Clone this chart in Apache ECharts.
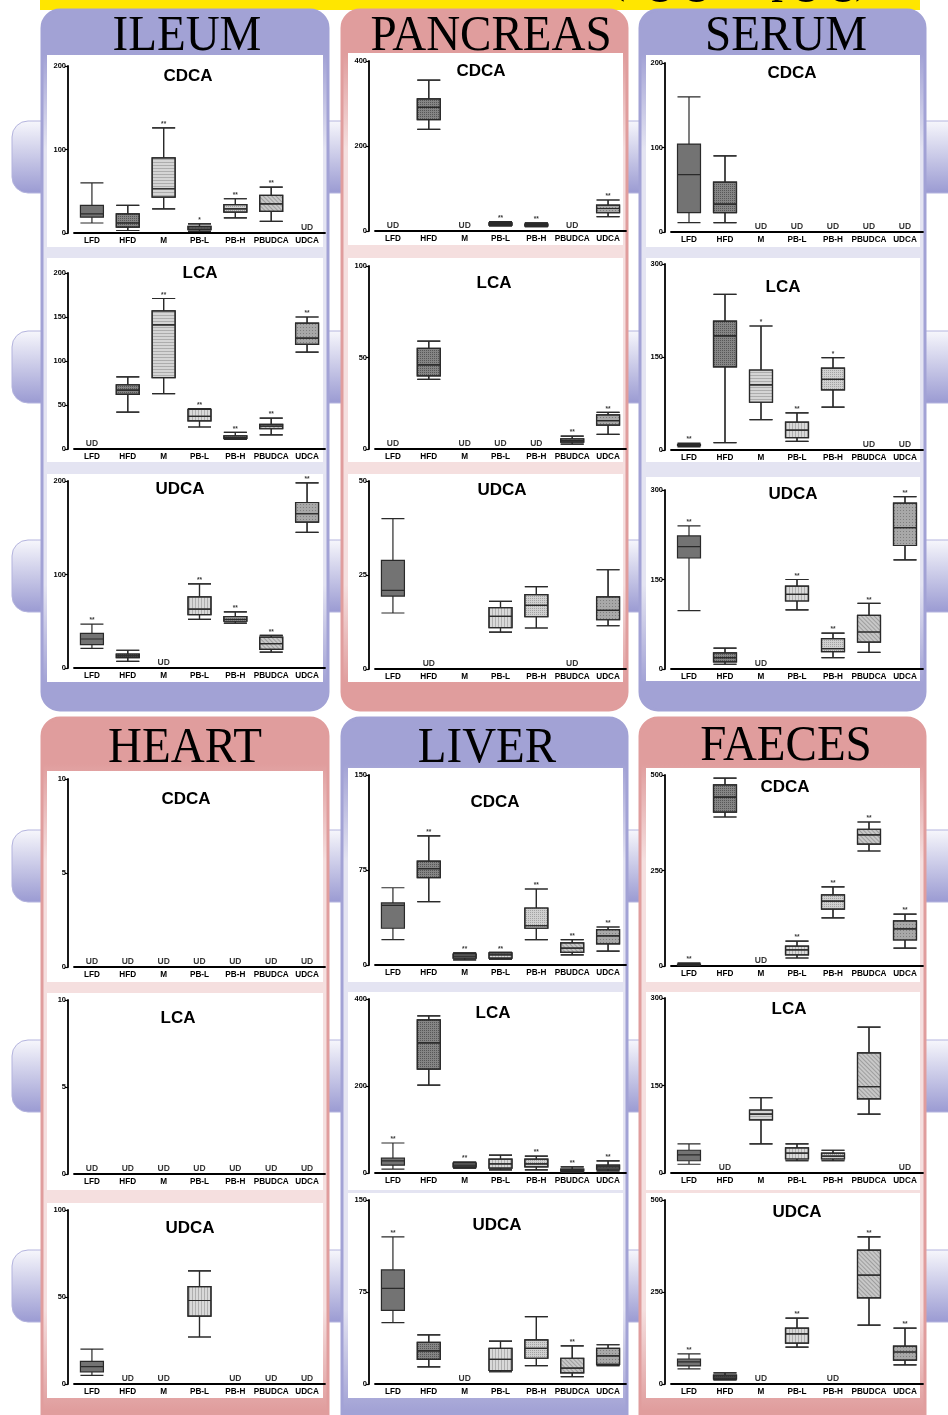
<!DOCTYPE html>
<html>
<head>
<meta charset="utf-8">
<script src="https://cdn.jsdelivr.net/npm/echarts@6/dist/echarts.min.js"></script>
<style>
html,body{margin:0;padding:0;background:#fff;}
#chart{width:948px;height:1415px;}
</style>
</head>
<body>
<div id="chart"></div>
<script>
// 分组
var groups = ['LFD', 'HFD', 'M', 'PB-L', 'PB-H', 'PBUDCA', 'UDCA'];
var tissues = ['ILEUM', 'PANCREAS', 'SERUM', 'HEART', 'LIVER', 'FAECES'];
var acids = ['CDCA', 'LCA', 'UDCA'];

// 箱线数据 [min, Q1, median, Q3, max], null = 未检出
var ileumCDCA = [[12,19,23,33,60],[3,7,12,23,33],[29,43,53,90,126],[2,4,6,8,11],[18,25,29,34,41],[14,26,35,45,55],null];
var ileumCDCAMark = ['','','**','*','**','**','UD'];
var ileumLCA = [null,[42,62,67,73,82],[63,81,141,157,171],[25,32,37,45,46],[11,12,13,15,19],[16,23,26,28,35],[110,119,126,143,150]];
var ileumLCAMark = ['UD','','**','**','**','**','**'];
var ileumUDCA = [[21,25,31,37,47],[7,11,13,15,19],null,[52,57,63,76,90],[48,50,52,55,60],[17,20,26,33,35],[145,156,165,177,198]];
var ileumUDCAMark = ['**','','UD','**','**','**','**'];

var pancreasCDCA = [null,[239,262,291,311,355],null,[12,14,16,19,22],[10,12,14,16,19],null,[34,43,53,61,73]];
var pancreasCDCAMark = ['UD','','UD','**','**','UD','**'];
var pancreasLCA = [null,[38,40,46,55,59],null,null,null,[2.7,3.8,4.6,5.5,7],[8,13,15.5,18.6,20]];
var pancreasLCAMark = ['UD','','UD','UD','UD','**','**'];
var pancreasUDCA = [[14.9,19.4,20.9,28.9,40],null,null,[9.8,11,14,16.3,18],[10.9,13.9,16.9,19.8,21.9],null,[11.5,13.1,15.6,19.2,26.4]];
var pancreasUDCAMark = ['','UD','','','','UD',''];

var serumCDCA = [[11,23,68,104,160],[11,23,33,59,90],null,null,null,null,null];
var serumCDCAMark = ['','','UD','UD','UD','UD','UD'];
var serumLCA = [[5,7,8,9,11],[12,134,184,208,251],[49,77,105,129,200],[14,20,32,45,60],[69,97,114,132,149],null,null];
var serumLCAMark = ['**','','*','**','*','UD','UD'];
var serumUDCA = [[98,186,205,223,240],[8,12,19,27,35],null,[99,114,125,139,150],[19,29,34,51,60],[28,45,62,90,110],[183,207,237,278,289]];
var serumUDCAMark = ['**','','UD','**','**','**','**'];

var heartCDCA = [null,null,null,null,null,null,null];
var heartCDCAMark = ['UD','UD','UD','UD','UD','UD','UD'];
var heartLCA = [null,null,null,null,null,null,null];
var heartLCAMark = ['UD','UD','UD','UD','UD','UD','UD'];
var heartUDCA = [[5,7,10,13,20],null,null,[27,39,48,56,65],null,null,null];
var heartUDCAMark = ['','UD','UD','','UD','UD','UD'];

var liverCDCA = [[20,29,47,49,61],[50,69,76,82,102],[4,5.5,7,8.7,9.5],[4.7,5.5,8,9.5,10],[20,29,31,45,60],[8,10,13.4,17.4,20],[11,16.6,23,28,30]];
var liverCDCAMark = ['','**','**','**','**','**','**'];
var liverLCA = [[9,18,28,34,69],[202,239,299,352,361],[11,14,18,23,25],[7,11,21,32,41],[7,14,21,32,39],[2,5,7,9,14],[5,9,14,18,28]];
var liverLCAMark = ['**','','**','','**','**','**'];
var liverUDCA = [[50,60,78,93,120],[14,20,27,34,40],null,[10,11,20,29,35],[15,21,29,36,55],[6,9,13,21,31],[15,16,23,29,32]];
var liverUDCAMark = ['**','','UD','','','**',''];

var faecesCDCA = [[1,2,3,5,8],[390,403,442,474,492],null,[21,29,42,52,65],[126,149,170,186,207],[301,319,343,358,377],[47,68,97,118,136]];
var faecesCDCAMark = ['**','','UD','**','**','**','**'];
var faecesLCA = [[15,21,31,39,50],null,[50,91,101,108,129],[21,24,34,43,50],[21,24,29,34,39],[101,127,148,206,250],null];
var faecesLCAMark = ['','UD','','','','','UD'];
var faecesUDCA = [[41,49,60,68,82],[11,14,19,24,30],null,[100,111,136,152,179],null,[160,234,296,364,400],[52,65,87,103,152]];
var faecesUDCAMark = ['**','','UD','**','UD','**','**'];

// 坐标轴刻度
var axisMax  = [200,200,200, 400,100,50, 200,300,300, 10,10,100, 150,400,150, 500,300,500];
var axisStep = [100,50,100, 200,50,25, 100,150,150, 5,5,50, 75,200,75, 250,150,250];

var panelData = [ileumCDCA, ileumLCA, ileumUDCA, pancreasCDCA, pancreasLCA, pancreasUDCA,
                 serumCDCA, serumLCA, serumUDCA, heartCDCA, heartLCA, heartUDCA,
                 liverCDCA, liverLCA, liverUDCA, faecesCDCA, faecesLCA, faecesUDCA];
var panelMark = [ileumCDCAMark, ileumLCAMark, ileumUDCAMark, pancreasCDCAMark, pancreasLCAMark, pancreasUDCAMark,
                 serumCDCAMark, serumLCAMark, serumUDCAMark, heartCDCAMark, heartLCAMark, heartUDCAMark,
                 liverCDCAMark, liverLCAMark, liverUDCAMark, faecesCDCAMark, faecesLCAMark, faecesUDCAMark];

// 布局
var colX = [42, 342, 640];
var colW = [286, 285, 285];
var gridLeft = [74, 375, 671];
var gridRight = [325, 626, 923];
var whiteX = [[47,323],[348,623],[646,920]];
var plotTop  = [66,273,481, 61,266,481, 63,264,490, 779,1000,1210, 775,999,1200, 775,998,1200];
var plotZero = [233,449,668, 231,449,669, 232,450,669, 967,1174,1384, 965,1173,1384, 966,1173,1384];
var whiteTop = [55,258,474, 53,258,474, 55,258,477, 771,993,1203, 768,992,1193, 768,992,1193];
var whiteBot = [247,462,682, 245,462,682, 247,462,681, 982,1190,1398, 982,1190,1398, 982,1190,1398];
var subTitle = [[188,76],[200,273],[180,489],[481,71],[494,283],[502,490],[792,73],[783,287],[793,494],
                [186,799],[178,1018],[190,1228],[495,802],[493,1013],[497,1225],[785,787],[789,1009],[797,1212]];
var titleX = [187, 491, 786, 185, 487, 786];
var titleY = [37, 37, 37, 749, 749, 747];
var bandY = [121, 331, 540, 830, 1040, 1250];

// 颜色
var purple = '#a2a2d5', purpleLight = '#e4e4f2';
var pink = '#e09d9d', pinkLight = '#f5dfdf';
var tissueColor = [0, 1, 0, 1, 0, 1];
var boxFill = ['#737373', '#858585', '#d5d5d5', '#d9d9d9', '#d0d0d0', '#c8c8c8', '#a8a8a8'];
var boxDecal = [
    null,
    {symbol:'rect', symbolSize:1, color:'rgba(30,30,30,0.45)', dashArrayX:[1,1], dashArrayY:[1,1]},
    {symbol:'rect', symbolSize:1, color:'rgba(80,80,80,0.3)', dashArrayX:[1,0], dashArrayY:[1,2]},
    {symbol:'rect', symbolSize:1, color:'rgba(80,80,80,0.3)', dashArrayX:[1,2], dashArrayY:[1,0]},
    {symbol:'rect', symbolSize:1, color:'rgba(60,60,60,0.3)', dashArrayX:[1,1], dashArrayY:[1,1]},
    {symbol:'rect', symbolSize:1, color:'rgba(60,60,60,0.3)', dashArrayX:[1,0], dashArrayY:[1,2], rotation:Math.PI/4},
    {symbol:'rect', symbolSize:1, color:'rgba(50,50,50,0.35)', dashArrayX:[1,2], dashArrayY:[1,2]}
];
var sans = '"Liberation Sans", Arial, sans-serif';
var serif = '"Liberation Serif", "DejaVu Serif", serif';

var grid = [], xAxis = [], yAxis = [], series = [], graphic = [];

// 背景条
bandY.forEach(function (y) {
    graphic.push({
        type:'rect', z:-10, silent:true,
        shape:{x:12, y:y, width:960, height:72, r:[16,0,0,16]},
        style:{fill:new echarts.graphic.LinearGradient(0,0,0,1,[{offset:0,color:'#f7f7fc'},{offset:1,color:'#9a9ad2'}]),
               stroke:'#b4b4de', lineWidth:1}
    });
});

// 黄色标题条
graphic.push({type:'rect', z:-9, silent:true, shape:{x:40, y:0, width:880, height:10}, style:{fill:'#ffe600'}});
graphic.push({type:'text', z:-8, silent:true, x:740, y:3, scaleX:0.94,
    style:{text:'(ng/g or pg/g)', font:'50px ' + serif, fill:'#000', align:'center', verticalAlign:'bottom'}});

// 组织面板
tissues.forEach(function (name, t) {
    var col = t % 3, row = Math.floor(t / 3);
    var top = row ? 718 : 10;
    var h = row ? 720 : 700;
    var solid = tissueColor[t] ? pink : purple;
    var light = tissueColor[t] ? pinkLight : purpleLight;
    graphic.push({
        type:'rect', z:-7, silent:true,
        shape:{x:colX[col], y:top, width:colW[col], height:h, r:18},
        style:{fill:new echarts.graphic.LinearGradient(0,0,0,1,[
            {offset:0,color:solid},{offset:0.065,color:solid},{offset:0.2,color:light},
            {offset:0.82,color:light},{offset:0.96,color:solid},{offset:1,color:solid}]),
            stroke:solid, lineWidth:3}
    });
    graphic.push({
        type:'text', z:5, silent:true, x:titleX[t], y:titleY[t], scaleX:0.94,
        style:{text:name, font:'50px ' + serif, fill:'#000', align:'center', verticalAlign:'middle'}
    });
});

// 图表
panelData.forEach(function (vals, p) {
    var t = Math.floor(p / 3), col = t % 3;
    var marks = panelMark[p];

    graphic.push({
        type:'rect', z:-6, silent:true,
        shape:{x:whiteX[col][0], y:whiteTop[p], width:whiteX[col][1] - whiteX[col][0], height:whiteBot[p] - whiteTop[p]},
        style:{fill:'#fff'}
    });
    graphic.push({
        type:'text', z:5, silent:true, x:subTitle[p][0], y:subTitle[p][1],
        style:{text:acids[p % 3], font:'bold 17px ' + sans, fill:'#000', align:'center', verticalAlign:'middle'}
    });

    grid.push({left:gridLeft[col], width:gridRight[col] - gridLeft[col], top:plotTop[p], height:plotZero[p] - plotTop[p]});
    xAxis.push({
        type:'category', gridIndex:p, data:groups,
        axisLine:{lineStyle:{color:'#000', width:1.8}},
        axisTick:{alignWithLabel:true, length:2, lineStyle:{color:'#000', width:1.2}},
        axisLabel:{interval:0, margin:4, fontSize:8.2, fontWeight:'bold', color:'#000', fontFamily:sans},
        splitLine:{show:false}
    });
    yAxis.push({
        type:'value', gridIndex:p, min:0, max:axisMax[p], interval:axisStep[p], offset:6,
        axisLine:{show:true, lineStyle:{color:'#000', width:1.8}},
        axisTick:{show:true, length:3, lineStyle:{color:'#000', width:1.2}},
        axisLabel:{margin:2, fontSize:7.5, fontWeight:'bold', color:'#000', fontFamily:sans},
        splitLine:{show:false}
    });

    series.push({
        type:'boxplot', xAxisIndex:p, yAxisIndex:p, boxWidth:[23,23], silent:true,
        itemStyle:{borderColor:'#2a2a2a', borderWidth:1.2},
        data:vals.map(function (v, i) {
            if (!v) return {value:['-','-','-','-','-']};
            var style = {color:boxFill[i]};
            if (boxDecal[i]) style.decal = boxDecal[i];
            return {value:v.slice(), itemStyle:style};
        })
    });

    var notes = [];
    marks.forEach(function (m, i) {
        if (!m) return;
        var ud = m === 'UD';
        notes.push({
            value:[i, ud ? 0 : vals[i][4]],
            label:{show:true, formatter:m, position:'top', distance:ud ? 1 : 0,
                   fontSize:ud ? 8.5 : 6.5, fontWeight:'bold', color:'#000', fontFamily:sans}
        });
    });
    series.push({type:'scatter', xAxisIndex:p, yAxisIndex:p, symbolSize:0, silent:true, data:notes});
});

var myChart = echarts.init(document.getElementById('chart'));
myChart.setOption({
    animation:false,
    backgroundColor:'#fff',
    grid:grid,
    xAxis:xAxis,
    yAxis:yAxis,
    series:series,
    graphic:graphic
});
window.addEventListener("resize", function () {
    myChart.resize();
});
</script>
</body>
</html>
